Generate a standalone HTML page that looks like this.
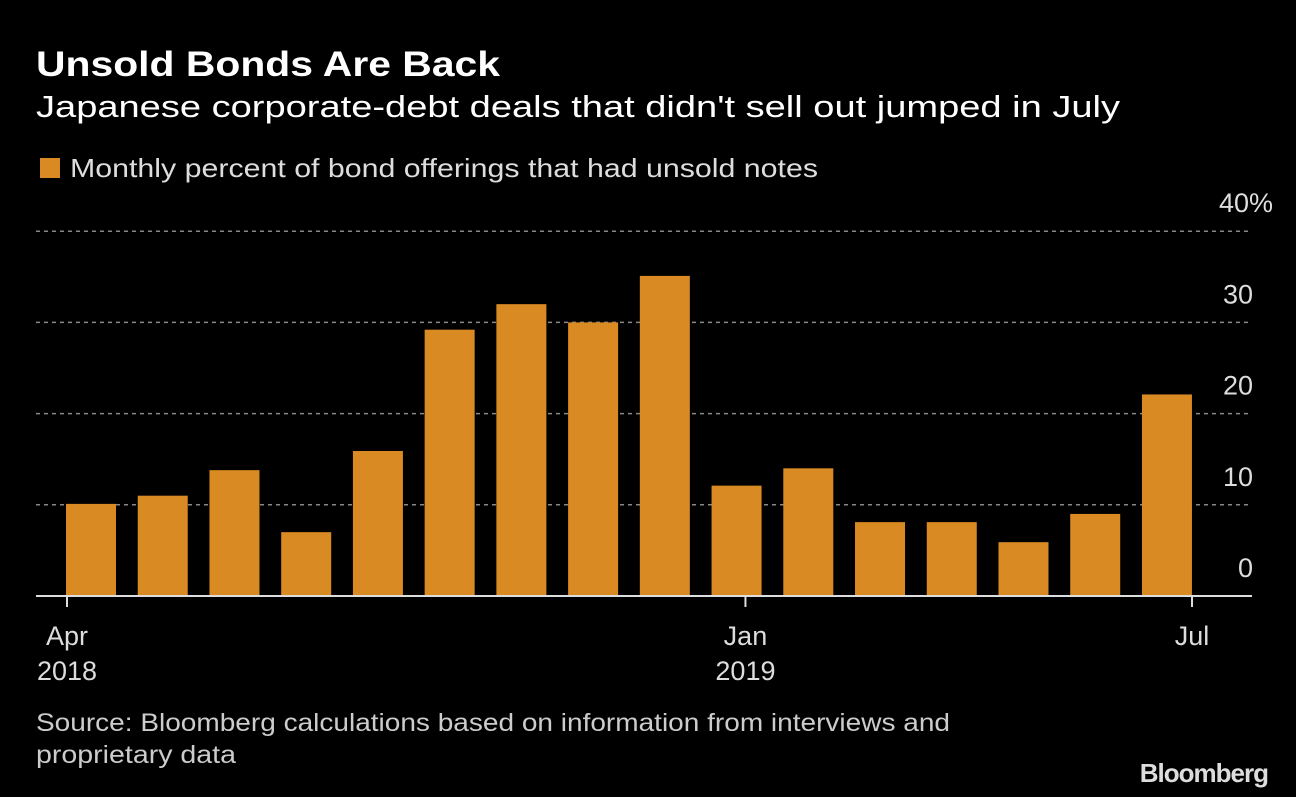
<!DOCTYPE html>
<html><head><meta charset="utf-8">
<style>
html,body{margin:0;padding:0;background:#000;}
body{width:1296px;height:792px;overflow:hidden;font-family:"Liberation Sans","DejaVu Sans",sans-serif;}
</style></head>
<body>
<svg width="1296" height="792" xmlns="http://www.w3.org/2000/svg">
<rect width="1296" height="792" fill="#000"/>
<text x="36" y="76" font-size="35" font-weight="bold" fill="#fff" textLength="464" lengthAdjust="spacingAndGlyphs">Unsold Bonds Are Back</text>
<text x="36" y="117" font-size="31" fill="#fff" textLength="1084" lengthAdjust="spacingAndGlyphs">Japanese corporate-debt deals that didn't sell out jumped in July</text>
<rect x="40" y="158" width="20" height="20" fill="#d98a22"/>
<text x="70" y="177" font-size="26" fill="#ddd" textLength="748" lengthAdjust="spacingAndGlyphs">Monthly percent of bond offerings that had unsold notes</text>
<g id="grid"></g>
<g id="bars"></g>
<g id="xaxis"></g>
<text x="36" y="731" font-size="25" fill="#ccc" textLength="914" lengthAdjust="spacingAndGlyphs">Source: Bloomberg calculations based on information from interviews and</text>
<text x="36" y="763" font-size="25" fill="#ccc" textLength="200" lengthAdjust="spacingAndGlyphs">proprietary data</text>
<text x="1268" y="782" font-size="26" font-weight="bold" fill="#ddd" text-anchor="end" letter-spacing="-1">Bloomberg</text>
</svg>
<script>
const categories=["2018-04","2018-05","2018-06","2018-07","2018-08","2018-09","2018-10","2018-11","2018-12","2019-01","2019-02","2019-03","2019-04","2019-05","2019-06","2019-07"];
const values=[10.1,11.0,13.8,7.0,15.9,29.2,32.0,30.0,35.1,12.1,14.0,8.1,8.1,5.9,9.0,22.1];
const yTicks=[0,10,20,30,40];
const yTickLabels=["0","10","20","30","40%"];
const xTickDates=["2018-04-01","2019-01-01","2019-07-01"];
const xTickLabels=[["Apr","2018"],["Jan","2019"],["Jul",""]];

const NS="http://www.w3.org/2000/svg";
const y0=596, pxPer=91.2/10;
function yScale(v){return y0-v*pxPer;}
const bandStart=66, bandStep=71.73, barW=50;
function xBand(i){return bandStart+i*bandStep;}
const d0=Date.UTC(2018,3,1), d1=Date.UTC(2019,6,1);
function xDate(s){const p=s.split("-");const t=Date.UTC(+p[0],+p[1]-1,+p[2]);return 67+(t-d0)/(d1-d0)*(1192-67);}
function mk(tag,attrs,parent){const e=document.createElementNS(NS,tag);for(const k in attrs)e.setAttribute(k,attrs[k]);parent.appendChild(e);return e;}

const grid=document.getElementById("grid");
yTicks.forEach((t,i)=>{
  const y=yScale(t);
  if(t>0){
    const l=mk("line",{x1:36,x2:1252,y1:y,y2:y,stroke:"#888","stroke-width":1.5,"stroke-dasharray":"4,4"},grid);
    
    
  }
  const tx=mk("text",{x:1253,y:y-19,"font-size":27,fill:"#ddd","text-anchor":"end"},grid);
  if(t===40){tx.setAttribute("text-anchor","start");tx.setAttribute("x",1219);}
  tx.textContent=yTickLabels[i];
  
  
});

const bars=document.getElementById("bars");
values.forEach((v,i)=>{
  const r=mk("rect",{x:xBand(i),y:yScale(v),width:barW,height:y0-yScale(v),fill:"#d98a22"},bars);
  
  
});

const xa=document.getElementById("xaxis");
const ax=mk("line",{x1:36,x2:1252,y1:y0,y2:y0,stroke:"#ddd","stroke-width":2},xa);


xTickDates.forEach((d,i)=>{
  const x=xDate(d);
  const tk=mk("line",{x1:x,x2:x,y1:y0,y2:y0+11,stroke:"#ddd","stroke-width":2},xa);
  
  
  const t1=mk("text",{x:x,y:645,"font-size":27,fill:"#ddd","text-anchor":"middle"},xa);
  t1.textContent=xTickLabels[i][0];
  
  
  if(xTickLabels[i][1]){
    const t2=mk("text",{x:x,y:680,"font-size":27,fill:"#ddd","text-anchor":"middle"},xa);
    t2.textContent=xTickLabels[i][1];
    
    
  }
});
</script>
</body></html>
